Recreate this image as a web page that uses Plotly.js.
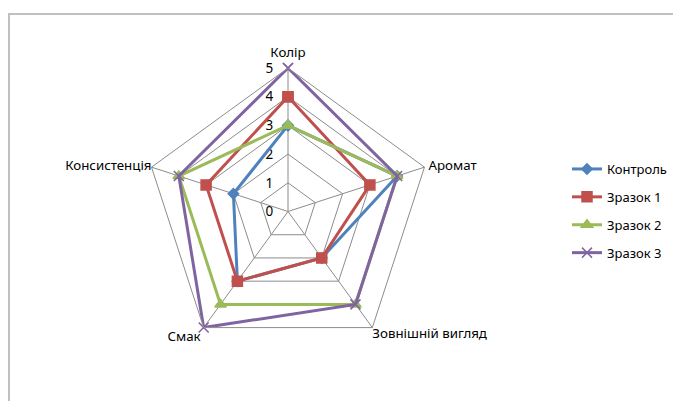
<!DOCTYPE html>
<html><head><meta charset="utf-8">
<script src="https://cdn.plot.ly/plotly-3.0.1.min.js"></script>
<style>
html,body{margin:0;padding:0;background:#fff;}
#wrap{position:relative;width:673px;height:401px;overflow:hidden;}
#frame{position:absolute;left:8px;top:13px;width:700px;height:420px;border-left:2px solid #c0c0c0;border-top:2px solid #c0c0c0;box-sizing:border-box;pointer-events:none;}
#chart{position:absolute;left:0;top:0;width:673px;height:401px;}
</style></head>
<body>
<div id="wrap"><div id="chart"></div><div id="frame"></div></div>
<script>
const categories = ["Колір", "Аромат", "Зовнішній вигляд", "Смак", "Консистенція"];
const seriesNames = ["Контроль", "Зразок 1", "Зразок 2", "Зразок 3"];
const kontrol = [3, 4, 2, 3, 2];
const zrazok1 = [4, 3, 2, 3, 3];
const zrazok2 = [3, 4, 4, 4, 4];
const zrazok3 = [5, 4, 4, 5, 4];
const radialTicks = [0, 1, 2, 3, 4, 5];

const colors = ["#4F81BD", "#C0504D", "#9BBB59", "#8064A2"];
const symbols = ["diamond", "square", "triangle-up", "x-thin-open"];
const sizes = [8, 10, 10, 10];
const allValues = [kontrol, zrazok1, zrazok2, zrazok3];
const rMin = radialTicks[0];
const rMax = radialTicks[radialTicks.length - 1];

const closed = a => a.concat([a[0]]);
// category labels at the outer ring
const catTrace = {
  type: "scatterpolar",
  r: categories.map(() => rMax),
  theta: categories,
  mode: "markers+text",
  text: categories,
  textposition: ["top center", "middle right", "bottom right", "bottom left", "middle left"],
  textfont: {size: 13.3, color: "#000"},
  marker: {size: [11.2, 4.8, 0, 3.2, 0], opacity: 0},
  cliponaxis: false,
  showlegend: false,
  hoverinfo: "skip"
};
// empty cartesian trace so that the value scale (radial tick labels) is drawn as a y axis
const scaleTrace = {type: "scatter", x: [], y: [], xaxis: "x", yaxis: "y", showlegend: false, hoverinfo: "skip"};
const traces = [scaleTrace, catTrace].concat(allValues.map((vals, i) => ({
  type: "scatterpolar",
  r: closed(vals),
  theta: closed(categories),
  name: seriesNames[i],
  mode: "lines+markers",
  legendgroup: "g" + i,
  cliponaxis: false,
  line: {color: colors[i], width: 3},
  marker: {symbol: symbols[i], size: sizes[i], color: colors[i], line: {color: colors[i], width: 1.5}},
  hoverinfo: "skip"
})));

const W = 673, H = 401, cx = 288, cy = 211.5, R = 143.5;
const layout = {
  width: W, height: H,
  margin: {l: 0, r: 0, t: 0, b: 0},
  paper_bgcolor: "rgba(0,0,0,0)",
  plot_bgcolor: "rgba(0,0,0,0)",
  font: {family: "Noto Sans, Liberation Sans, sans-serif", size: 13.3, color: "#000"},
  showlegend: true,
  legend: {
    x: 567 / W, xanchor: "left", y: 1 - 154 / H, yanchor: "top",
    font: {size: 13, color: "#000"},
    tracegroupgap: 8,
    traceorder: "grouped",
    bgcolor: "rgba(0,0,0,0)"
  },
  xaxis: {visible: false, domain: [cx / W, (cx + 1) / W], range: [0, 1], fixedrange: true},
  yaxis: {
    anchor: "free", position: cx / W, side: "left",
    domain: [(H - cy) / H, (H - cy + R) / H],
    range: [rMin, rMax], tickvals: radialTicks, ticktext: radialTicks.map(String),
    ticks: "outside", ticklen: 12, tickcolor: "rgba(0,0,0,0)",
    showgrid: false, zeroline: false, showline: false,
    tickfont: {size: 13.5, color: "#000"}, fixedrange: true
  },
  polar: {
    domain: {x: [(cx - R) / W, (cx + R) / W], y: [(H - cy - R) / H, (H - cy + R) / H]},
    gridshape: "linear",
    bgcolor: "rgba(0,0,0,0)",
    angularaxis: {
      direction: "clockwise", rotation: 90,
      categoryorder: "array", categoryarray: categories,
      showline: true, linecolor: "#8c8c8c", linewidth: 1,
      gridcolor: "#8c8c8c", gridwidth: 1,
      ticks: "", showticklabels: false
    },
    radialaxis: {
      range: [rMin, rMax], tickvals: radialTicks,
      angle: 90, showticklabels: false,
      showline: false, ticks: "",
      gridcolor: "#8c8c8c", gridwidth: 1
    }
  }
};
Plotly.newPlot("chart", traces, layout, {staticPlot: true, displayModeBar: false});
</script>
</body></html>
